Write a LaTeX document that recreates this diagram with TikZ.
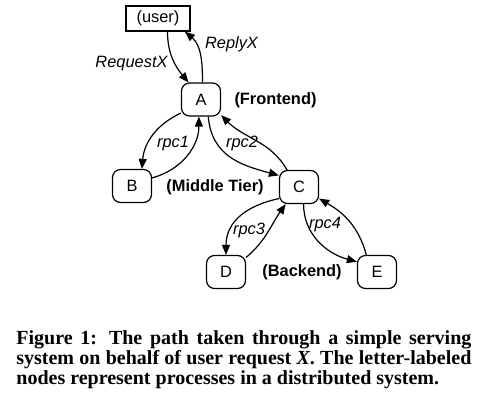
\documentclass[tikz,border=0pt]{standalone}
\usepackage{fontspec}
\setmainfont{Liberation Serif}
\setsansfont{Liberation Sans}
\usetikzlibrary{arrows.meta}

\begin{document}
\begin{tikzpicture}[x=0.5pt, y=-0.5pt, >={Triangle[length=5pt,width=4pt]},
	every node/.style={font=\sffamily\fontsize{8.2}{9.8}\selectfont},
	process/.style={draw, line width=0.6pt, rounded corners=4pt, inner sep=0pt, minimum width=19.5pt, minimum height=16.5pt},
	client/.style={draw, line width=0.6pt, inner sep=0pt, minimum width=32pt, minimum height=12.5pt},
	tier/.style={font=\sffamily\bfseries\fontsize{8.2}{9.8}\selectfont},
	call/.style={font=\sffamily\itshape\fontsize{8.2}{9.8}\selectfont},
	caption/.style={font=\rmfamily\bfseries\fontsize{10}{10}\selectfont, text width=227.5pt, align=justify, inner sep=0pt, anchor=base west}]

	\useasboundingbox (0,0) rectangle (484,402);

	% user
	\node [client] (user) at (158,18.5) {(user)};

	% processes
	\foreach \m/\x/\y in {A/201/99.5, B/132/186, C/299/187, D/226/272, E/377/272}
		\node [process] (\m) at (\x,\y) {\m};

	% tiers
	\foreach \l/\x/\y [count=\i] in {Frontend/275.5/100, Middle Tier/215/187, Backend/302/272}
		\node [tier] (tier-\i) at (\x,\y) {(\l)};

	% calls
	\foreach \l/\x/\y [count=\i] in {RequestX/131.5/64, ReplyX/231.5/44, rpc1/173/144, rpc2/242/143, rpc3/249/230, rpc4/325/225}
		\node [call] (call-\i) at (\x,\y) {\l};

	% lines between processes
	\foreach \s/\t/\o/\n/\k in {user.-54/A.126/-90/130/1, A.85/user.-26/90/-40/1, A.214/B.60/205/85/1, B.22/A.-97/15/-90/1, A.-67/C.150/-85/165/1.1, C.125/A.-38/120/-45/1, C.210/D.north/192/90/1.1, D.36/C.-128/40/-125/1, C.-75/E.153/-90/165/1, E.122/C.-30/105/-30/1}
		\draw [->, line width=0.6pt] (\s) to[out=\o, in=\n, looseness=\k] (\t);

	% caption
	\node [caption] (caption) at (16,344) {Figure 1: The path taken through a simple serving\linebreak system on behalf of user request \textit{X}. The letter-labeled\linebreak nodes represent processes in a distributed system.};

\end{tikzpicture}
\end{document}
